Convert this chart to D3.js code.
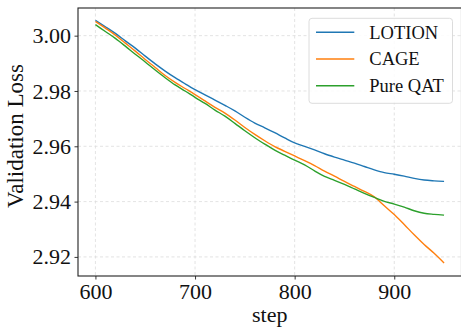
<!DOCTYPE html>
<html><head><meta charset="utf-8">
<script src="https://cdn.jsdelivr.net/npm/d3@7"></script>
<style>body{margin:0;background:#fff}svg{display:block}</style>
</head><body>
<svg id="c" width="461" height="328"></svg>
<script>
const steps = [600,610,620,630,640,650,660,670,680,690,700,710,720,730,740,750,760,770,780,790,800,810,820,830,840,850,860,870,880,890,900,910,920,930,940,950];
const lotion = [3.0055,3.0032,3.0008,2.9981,2.9955,2.9926,2.9898,2.9872,2.9848,2.9826,2.9805,2.9786,2.9767,2.9748,2.9728,2.9705,2.9684,2.9667,2.9649,2.9630,2.9612,2.9600,2.9587,2.9573,2.9561,2.9550,2.9539,2.9527,2.9515,2.9505,2.9499,2.9492,2.9484,2.9478,2.9475,2.9473];
const cage = [3.0051,3.0027,3.0002,2.9973,2.9944,2.9914,2.9885,2.9856,2.9831,2.9809,2.9787,2.9764,2.9741,2.9720,2.9695,2.9668,2.9643,2.9620,2.9599,2.9582,2.9565,2.9548,2.9530,2.9510,2.9492,2.9473,2.9455,2.9437,2.9417,2.9385,2.9353,2.9317,2.9280,2.9245,2.9213,2.9178];
const pureQat = [3.0040,3.0015,2.9990,2.9962,2.9933,2.9905,2.9876,2.9848,2.9822,2.9800,2.9777,2.9755,2.9731,2.9709,2.9683,2.9656,2.9631,2.9608,2.9586,2.9568,2.9550,2.9533,2.9511,2.9491,2.9477,2.9462,2.9446,2.9430,2.9415,2.9401,2.9391,2.9380,2.9367,2.9358,2.9354,2.9351];
const seriesNames = ["LOTION","CAGE","Pure QAT"];
const seriesColors = ["#1f77b4","#ff7f0e","#2ca02c"];
const xTicks = [600,700,800,900];
const yTicks = [2.92,2.94,2.96,2.98,3.00];

const series = [lotion, cage, pureQat];
const svg = d3.select("#c");
const L = 78, R = 461.5, T = 8, B = 276;
const x = d3.scaleLinear().domain([582.5, 967.5]).range([L, R]);
const y = d3.scaleLinear().domain([2.9131, 3.0100]).range([B, T]);
const font = "'Liberation Serif','Times New Roman',serif";

// grid
const g = svg.append("g");
g.selectAll(".gx").data(xTicks).enter().append("line")
  .attr("x1", d => x(d)).attr("x2", d => x(d)).attr("y1", T).attr("y2", B)
  .attr("stroke", "#dcdcdc").attr("stroke-width", 0.8).attr("stroke-dasharray", "3,2.5");
g.selectAll(".gy").data(yTicks).enter().append("line")
  .attr("x1", L).attr("x2", R).attr("y1", d => y(d)).attr("y2", d => y(d))
  .attr("stroke", "#dcdcdc").attr("stroke-width", 0.8).attr("stroke-dasharray", "3,2.5");

// lines
const line = d3.line().curve(d3.curveMonotoneX).x((d, i) => x(steps[i])).y(d => y(d));
series.forEach((s, k) => {
  svg.append("path").datum(s).attr("d", line).attr("fill", "none")
    .attr("stroke", seriesColors[k]).attr("stroke-width", 1.4);
});

// axes
const xAxis = svg.append("g").attr("transform", `translate(0,${B})`)
  .call(d3.axisBottom(x).tickValues(xTicks).tickSize(3.5).tickPadding(4).tickFormat(d3.format("d")));
const yAxis = svg.append("g").attr("transform", `translate(${L},0)`)
  .call(d3.axisLeft(y).tickValues(yTicks).tickSize(3.5).tickPadding(3.5).tickFormat(d3.format(".2f")));
[xAxis, yAxis].forEach(a => {
  a.select(".domain").remove();
  a.selectAll("line").attr("stroke", "#222").attr("stroke-width", 0.9);
  a.selectAll("text").attr("font-family", font).attr("font-size", 22).attr("fill", "#111");
});
// spines
svg.append("rect").attr("x", L).attr("y", T).attr("width", R - L).attr("height", B - T)
  .attr("fill", "none").attr("stroke", "#222").attr("stroke-width", 1.1);

// axis labels
svg.append("text").attr("x", (L + R) / 2).attr("y", 322).attr("text-anchor", "middle")
  .attr("font-family", font).attr("font-size", 22).attr("fill", "#111").text("step");
svg.append("text").attr("transform", `translate(23,${(T + B) / 2 - 6}) rotate(-90)`)
  .attr("text-anchor", "middle").attr("font-family", font).attr("font-size", 23).attr("fill", "#111")
  .text("Validation Loss");

// legend
const lg = svg.append("g");
lg.append("rect").attr("x", 309).attr("y", 18.3).attr("width", 143.5).attr("height", 85)
  .attr("rx", 3).attr("fill", "#fff").attr("fill-opacity", 0.85).attr("stroke", "#d8d8d8").attr("stroke-width", 0.9);
seriesNames.forEach((n, i) => {
  const yy = 32.3 + i * 26.7;
  lg.append("line").attr("x1", 316).attr("x2", 354.3).attr("y1", yy).attr("y2", yy)
    .attr("stroke", seriesColors[i]).attr("stroke-width", 1.4);
  lg.append("text").attr("x", 369.3).attr("y", yy + 6.3).attr("font-family", font)
    .attr("font-size", 18.5).attr("fill", "#111").text(n);
});
</script>
</body></html>
